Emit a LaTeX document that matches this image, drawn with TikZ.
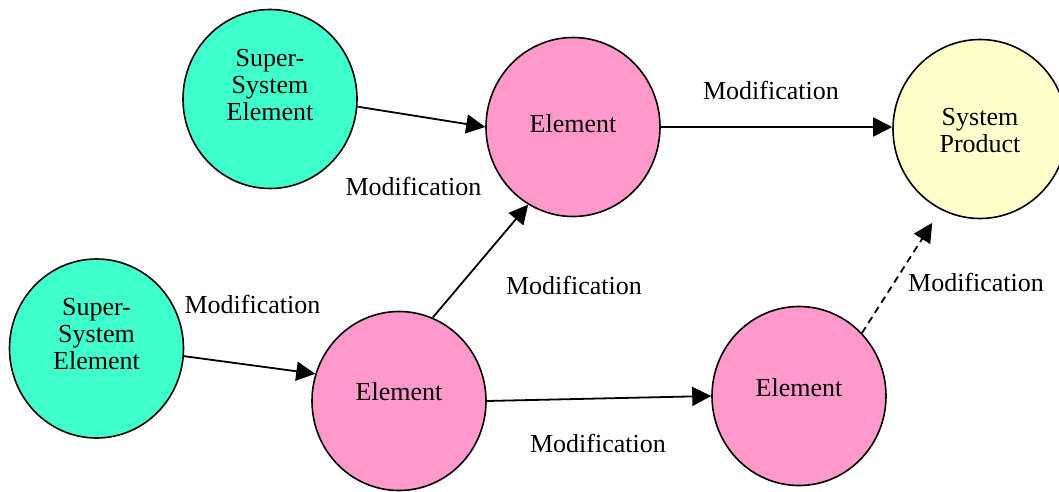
\documentclass[tikz,border=0pt]{standalone}
\usepackage{fontspec}
\setmainfont{Liberation Serif}
\usepackage{tikz}
\usetikzlibrary{shapes.geometric,arrows.meta}
\definecolor{ssgreen}{HTML}{3FFFCC}
\definecolor{elpink}{HTML}{FF99CC}
\definecolor{prodyellow}{HTML}{FFFFCC}

\begin{document}
\begin{tikzpicture}[
  x=0.5pt, y=-0.5pt,
  font=\fontsize{13}{13.5}\selectfont,
  mycirc/.style={draw,ellipse,line width=0.8pt,minimum width=87pt,minimum height=89.5pt,inner sep=0pt},
  mysse/.style={mycirc,fill=ssgreen},
  myelem/.style={mycirc,fill=elpink},
  myprod/.style={mycirc,fill=prodyellow},
  mytext/.style={align=center,inner sep=0pt},
  mylabel/.style={inner sep=0pt},
  myarrow/.style={line width=0.9pt,-{Triangle[length=9.5pt,width=9.5pt]}}
]
\useasboundingbox (0,0) rectangle (1059,492);

% circles
\node[mysse, label={[mytext,yshift=7pt]center:Super-\\System\\Element}] (sse1) at (270,99) {};
\node[myelem, label={[mytext,yshift=1.5pt]center:Element}] (el1) at (573,127) {};
\node[myprod, label={[mytext,yshift=-1pt]center:System\\Product}] (sp) at (980,129) {};
\node[mysse, label={[mytext,yshift=7pt]center:Super-\\System\\Element}] (sse2) at (96.5,348.5) {};
\node[myelem, label={[mytext,yshift=4.5pt]center:Element}] (el2) at (399,401) {};
\node[myelem, label={[mytext,yshift=4pt]center:Element}] (el3) at (799,396) {};

% labels
\node[mylabel] (mod1) at (771,90) {Modification};
\node[mylabel] (mod2) at (413.5,186.5) {Modification};
\node[mylabel] (mod3) at (252.5,304) {Modification};
\node[mylabel] (mod4) at (574,285) {Modification};
\node[mylabel] (mod5) at (598,443) {Modification};
\node[mylabel] (mod6) at (976,282) {Modification};

% connectors
\draw[myarrow] (sse1.-5) -- (el1.west);
\draw[myarrow] (el1.east) -- (el1.east -| sp.west);
\draw[myarrow] (sse2.-5) -- (el2.162);
\draw[myarrow] (el2.68) -- (el1.240);
\draw[myarrow] (el2.east) -- (el3.west);
\draw[myarrow,dash pattern=on 3.5pt off 2.5pt,shorten >=7.8pt] (el3.45) -- (sp.244);
\end{tikzpicture}
\end{document}
